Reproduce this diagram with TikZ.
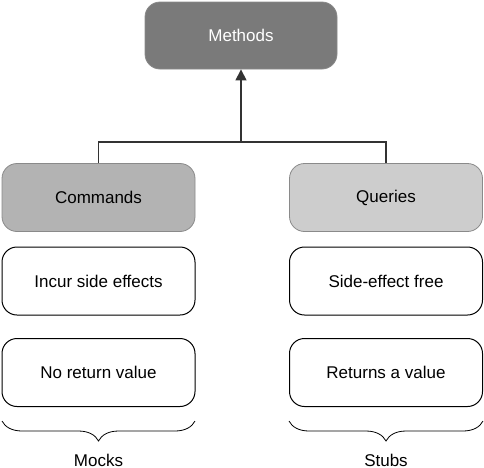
\documentclass[tikz,border=0pt]{standalone}
\usepackage{fontspec}
\setmainfont{Liberation Sans}
\usetikzlibrary{decorations.pathreplacing,arrows.meta}
\definecolor{mgray}{HTML}{7A7A7A}
\definecolor{cgray}{HTML}{B3B3B3}
\definecolor{qgray}{HTML}{CDCDCD}
\definecolor{bgray}{HTML}{8A8A8A}
\definecolor{lgray}{HTML}{333333}
\begin{document}
\begin{tikzpicture}[x=1pt,y=1pt,
  box/.style={rounded corners=15pt, minimum width=193pt, minimum height=68pt, font=\fontsize{17}{20}\selectfont, inner sep=0pt},
  graybox/.style={box, draw=bgray, line width=0.8pt},
  whitebox/.style={box, draw=black, fill=white, line width=1pt},
  conn/.style={draw=lgray, line width=1.2pt},
  bracestyle/.style={draw=black, line width=0.8pt, decorate, decoration={brace, amplitude=20pt, aspect=0.5}},
  lbl/.style={font=\fontsize{17}{20}\selectfont, inner sep=0pt}
]
\useasboundingbox (0,0) rectangle (484,-467);
\node[graybox, fill=mgray, text=white, minimum width=192pt, minimum height=67pt] (methods) at (241,-35.5) {Methods};
\node[graybox, fill=cgray] (commands) at (98.5,-197.5) {Commands};
\node[graybox, fill=qgray] (queries) at (386,-197.5) {Queries};
\node[whitebox] (incur) at (98.5,-281) {Incur side effects};
\node[whitebox] (noret) at (98.5,-372.5) {No return value};
\node[whitebox] (sefree) at (386,-281) {Side-effect free};
\node[whitebox] (retval) at (386,-372.5) {Returns a value};
\coordinate (junction) at (241,-142);
\draw[conn] (commands.north) |- (junction) -| (queries.north);
\draw[conn, -{Triangle[length=11pt,width=11pt]}] (junction) -- (methods.south);
\coordinate (b1r) at (195,-421);
\coordinate (b1l) at (2,-421);
\coordinate (b2r) at (483,-421);
\coordinate (b2l) at (289,-421);
\draw[bracestyle] (b1r) -- (b1l);
\draw[bracestyle] (b2r) -- (b2l);
\node[lbl] (mocks) at (98.5,-460) {Mocks};
\node[lbl] (stubs) at (386,-460) {Stubs};
\end{tikzpicture}
\end{document}
